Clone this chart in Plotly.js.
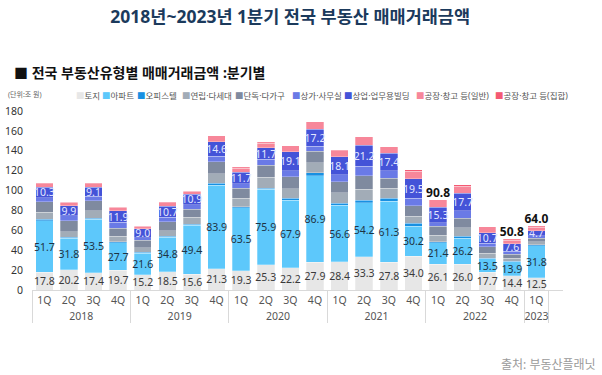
<!DOCTYPE html>
<html>
<head>
<meta charset="utf-8">
<script src="https://cdn.plot.ly/plotly-3.0.1.min.js"></script>
<style>html,body{margin:0;padding:0;background:#fff;}#chart{width:602px;height:375px;}</style>
</head>
<body>
<div id="chart"></div>
<script>
const years = ['2018','2018','2018','2018','2019','2019','2019','2019','2020','2020','2020','2020','2021','2021','2021','2021','2022','2022','2022','2022','2023'];
const quarters = ['1Q','2Q','3Q','4Q','1Q','2Q','3Q','4Q','1Q','2Q','3Q','4Q','1Q','2Q','3Q','4Q','1Q','2Q','3Q','4Q','1Q'];

const seriesNames = ['토지','아파트','오피스텔','연립·다세대','단독·다가구','상가·사무실','상업·업무용빌딩','공장·창고 등(일반)','공장·창고 등(집합)'];
const land       = [17.8,20.2,17.4,19.7,15.2,18.5,15.6,21.3,19.3,25.3,22.2,27.9,28.4,33.3,27.8,34.0,26.1,26.0,17.7,14.4,12.5];
const apt        = [51.7,31.8,53.5,27.7,21.6,34.8,49.4,83.9,63.5,75.9,67.9,86.9,56.6,54.2,61.3,30.2,21.4,26.2,13.5,13.9,31.8];
const officetel  = [1.5,1.2,1.5,1.0,1.2,1.0,1.1,2.1,1.0,1.1,2.2,3.2,2.2,3.0,3.2,2.9,1.1,2.1,0.7,0.8,1.2];
const rowhouse   = [7.2,5.5,7.4,5.6,4.5,5.5,7.0,9.4,8.5,11.0,9.3,10.0,10.7,11.0,10.0,7.3,6.7,8.4,5.0,2.8,3.2];
const detached   = [10.6,11.0,10.0,7.9,7.5,9.0,8.1,12.4,10.0,12.4,12.4,11.7,11.0,13.4,10.0,10.4,9.0,9.4,6.7,4.0,3.3];
const store      = [4.2,5.2,4.3,6.0,2.5,4.5,4.4,5.5,4.4,5.7,6.0,5.0,7.0,9.7,7.8,7.4,3.5,7.5,3.3,3.2,2.8];
const commercial = [10.3,9.9,9.1,11.9,9.0,10.7,10.9,14.6,11.7,11.7,19.1,17.2,18.1,21.2,17.4,19.5,15.3,17.7,10.7,7.6,4.7];
const factoryGen = [3.4,3.4,3.4,3.4,2.5,3.6,2.8,4.9,4.2,4.6,5.0,6.3,5.8,7.2,5.8,7.8,6.7,7.2,5.2,3.5,3.8];
const factoryAgg = [0.6,0.6,0.6,0.6,0.5,0.6,0.6,0.8,0.8,0.8,0.8,1.0,0.9,1.1,0.9,1.2,1.0,1.1,0.8,0.6,0.7];
const totalLabelIdx = [16, 19, 20];
const yTicks = [0,20,40,60,80,100,120,140,160,180];

const seriesValues = [land, apt, officetel, rowhouse, detached, store, commercial, factoryGen, factoryAgg];
const colors = ['#e7e7e7','#5dc8fb','#1890e2','#a2acb7','#7f8a9f','#6a7ae6','#4453d8','#f7879a','#f45a73'];
const labelColors = {0:'#3a3a3a', 1:'#1d3344', 6:'#e3e8ff'};

const FONT = 'Noto Sans, Noto Sans CJK KR, sans-serif';
const traces = seriesValues.map((vals, i) => {
  const t = {
    type: 'bar',
    name: seriesNames[i],
    x: [years, quarters],
    y: vals,
    marker: {color: colors[i], line: {color: 'rgba(255,255,255,0.55)', width: 0.5}},
    hoverinfo: 'name+y'
  };
  if (labelColors[i] !== undefined) {
    t.text = vals.map(v => v.toFixed(1));
    t.textposition = 'inside';
    t.insidetextanchor = 'middle';
    t.textangle = 0;
    t.constraintext = 'none';
    t.textfont = {family: FONT, size: 10.5, color: labelColors[i]};
  } else {
    t.textposition = 'none';
  }
  return t;
});

const totals = years.map((_, k) => seriesValues.reduce((s, arr) => s + arr[k], 0));
traces.push({
  type: 'scatter',
  mode: 'text',
  x: [totalLabelIdx.map(k => years[k]), totalLabelIdx.map(k => quarters[k])],
  y: totalLabelIdx.map(k => totals[k]),
  text: totalLabelIdx.map(k => '<b>' + totals[k].toFixed(1) + '</b>'),
  textposition: 'top center',
  textfont: {family: FONT, size: 12, color: '#111'},
  hoverinfo: 'skip',
  showlegend: false
});

// legend entries placed as text (left pixel position of each entry)
const legendLeftPx = [74, 100, 135, 180, 233, 290, 342, 414, 493];
const legendAnnotations = seriesNames.map((n, i) => ({
  xref: 'paper', yref: 'paper', x: (legendLeftPx[i]-32)/531, y: (290-96)/179,
  xanchor: 'left', yanchor: 'middle', showarrow: false,
  text: '<span style="color:' + colors[i] + '">■</span>' + n,
  font: {family: FONT, size: 8.5, color: '#555'}
}));

const layout = {
  width: 602, height: 375,
  margin: {l: 32, r: 39, t: 111, b: 85},
  paper_bgcolor: '#fff', plot_bgcolor: '#fff',
  font: {family: FONT, color: '#444'},
  barmode: 'stack',
  bargap: 0.29,
  showlegend: false,
  title: {
    text: '<b>2018년~2023년 1분기 전국 부동산 매매거래금액</b>',
    font: {family: FONT, size: 17.5, color: '#1b3a5c'},
    x: 0.482, xanchor: 'center', y: 1 - 17/375, yanchor: 'middle', yref: 'container'
  },
  xaxis: {
    type: 'multicategory',
    showline: true, linecolor: '#d9d9d9', linewidth: 1,
    showdividers: true, dividercolor: '#d9d9d9', dividerwidth: 1,
    tickfont: {family: FONT, size: 10.5, color: '#555'},
    ticks: '', showgrid: false
  },
  yaxis: {
    range: [0, 180],
    tickvals: yTicks,
    showgrid: false, zeroline: false, showline: false,
    tickfont: {family: FONT, size: 10.5, color: '#333'},
    ticklabelstandoff: 8
  },
  annotations: [
    {xref: 'paper', yref: 'paper', x: (12-32)/531, y: (290-72)/179, xanchor: 'left', yanchor: 'middle',
     text: '<b>■ 전국 부동산유형별 매매거래금액 :분기별</b>', showarrow: false,
     font: {family: FONT, size: 14, color: '#111'}},
    {xref: 'paper', yref: 'paper', x: (6-32)/531, y: (290-94)/179, xanchor: 'left', yanchor: 'middle',
     text: '(단위:조 원)', showarrow: false, font: {family: FONT, size: 7, color: '#666'}},
    {xref: 'paper', yref: 'paper', x: (598-32)/531, y: (290-364)/179, xanchor: 'right', yanchor: 'middle',
     text: '출처: 부동산플래닛', showarrow: false, font: {family: FONT, size: 12, color: '#9a9a9a'}}
  ].concat(legendAnnotations)
};

Plotly.newPlot('chart', traces, layout, {displayModeBar: false, staticPlot: true});
</script>
</body>
</html>
